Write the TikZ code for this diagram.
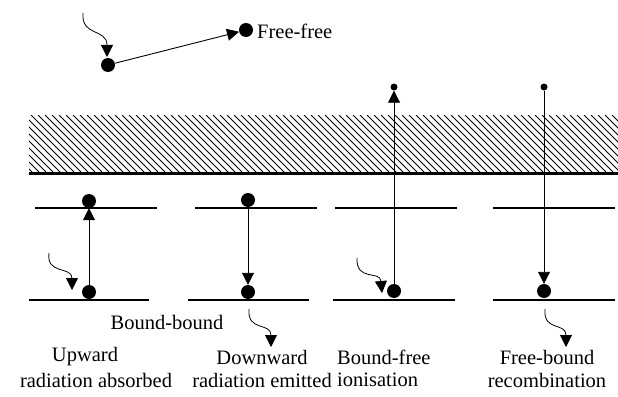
\documentclass[tikz,border=0pt]{standalone}
\usepackage{fontspec}
\setmainfont{Liberation Serif}
\usetikzlibrary{arrows.meta}
\begin{document}
\begin{tikzpicture}[x=1pt,y=-1pt,
  dot/.style={circle,fill=black,inner sep=0pt,minimum size=14pt},
  sdot/.style={circle,fill=black,inner sep=0pt,minimum size=7pt},
  level/.style={line width=1.2pt},
  trans/.style={line width=0.9pt,-{Triangle[length=12pt,width=12pt]}},
  wave/.style={line width=0.8pt,-{Triangle[length=12pt,width=12pt]}},
  lbl/.style={font=\fontsize{20.5}{23}\selectfont,inner sep=0pt}]
\useasboundingbox (0,0) rectangle (618,396);
% continuum hatching
\begin{scope}
  \clip (29,115) rectangle (618,173);
  \foreach \x in {-60,-53,...,620} {
    \draw[line width=0.8pt] (\x,115) -- (\x+58,173);
  }
\end{scope}
\draw[line width=3pt] (29,173) -- (618,173);
% energy levels
\draw[level] (35,208) -- (157,208);
\draw[level] (29,300) -- (149,300);
\draw[level] (195,208) -- (317,208);
\draw[level] (188,300) -- (309,300);
\draw[level] (335,208) -- (457,208);
\draw[level] (333,300) -- (455,300);
\draw[level] (493,208) -- (615,208);
\draw[level] (493,300) -- (615,300);
% free-free
\node[dot] (ff1) at (108,65) {};
\node[dot] (ff2) at (246,30) {};
\node[lbl,anchor=west] (fflbl) at (257,31) {Free-free};
\coordinate (ffw) at (83,13);
\draw[wave] (ffw) .. controls (81,37) and (107,28) .. (107,57);
\draw[trans] (ff1) -- (ff2);
% column 1: upward
\node[dot] (u1) at (89,201) {};
\node[dot] (l1) at (89,292) {};
\draw[trans] (l1) -- (u1);
\coordinate (w1) at (49,253);
\draw[wave] (w1) .. controls (46,275) and (72,266) .. (72,290);
% column 2: downward
\node[dot] (u2) at (248,200) {};
\node[dot] (l2) at (248,292) {};
\draw[trans] (u2) -- (l2);
\coordinate (w2) at (249,309);
\draw[wave] (w2) .. controls (247,332) and (271,322) .. (271,347);
% column 3: ionisation
\node[dot] (l3) at (394,291) {};
\node[sdot] (f3) at (394,87) {};
\draw[trans] (l3) -- (f3);
\coordinate (w3) at (357,258);
\draw[wave] (w3) .. controls (356,282) and (380,270) .. (382,293);
% column 4: recombination
\node[sdot] (f4) at (544,87) {};
\node[dot] (l4) at (544,291) {};
\draw[trans] (f4) -- (l4);
\coordinate (w4) at (545,309);
\draw[wave] (w4) .. controls (543,332) and (566,322) .. (566,347);
% labels
\node[lbl] (bb) at (167,322) {Bound-bound};
\node[lbl] (t1a) at (85,357) {Upward};
\node[lbl] (t1b) at (96,380) {radiation absorbed};
\node[lbl] (t2a) at (262,357) {Downward};
\node[lbl] (t2b) at (262,380) {radiation emitted};
\node[lbl,anchor=west] (t3a) at (337,357) {Bound-free};
\node[lbl,anchor=west] (t3b) at (337,380) {ionisation};
\node[lbl] (t4a) at (547,357) {Free-bound};
\node[lbl] (t4b) at (547,380) {recombination};
\end{tikzpicture}
\end{document}
